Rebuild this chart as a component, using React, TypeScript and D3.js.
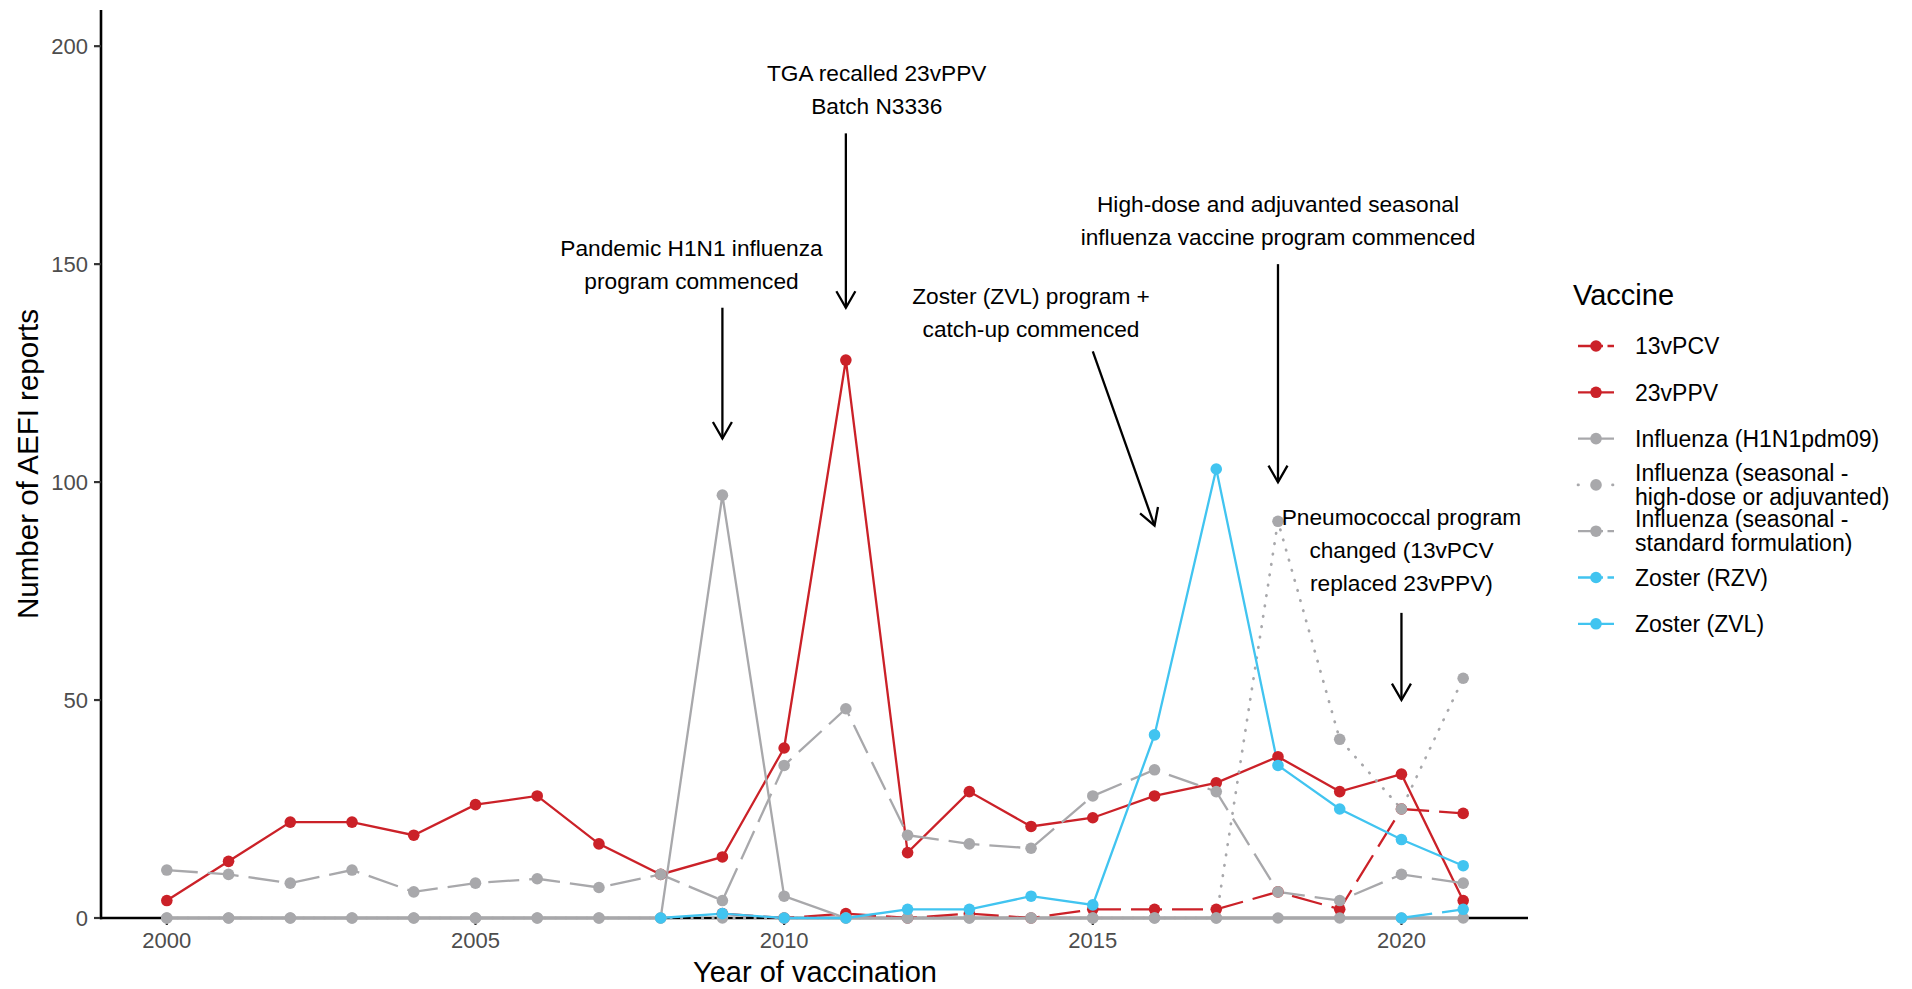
import React from 'react';
import * as d3 from 'd3';

const years = [2000, 2001, 2002, 2003, 2004, 2005, 2006, 2007, 2008, 2009, 2010, 2011, 2012, 2013, 2014, 2015, 2016, 2017, 2018, 2019, 2020, 2021];

// null = vaccine not in use that year
const pcv13 = [null, null, null, null, null, null, null, null, null, 1, 0, 1, 0, 1, 0, 2, 2, 2, 6, 2, 25, 24];
const ppv23 = [4, 13, 22, 22, 19, 26, 28, 17, 10, 14, 39, 128, 15, 29, 21, 23, 28, 31, 37, 29, 33, 4];
const fluH1N1 = [0, 0, 0, 0, 0, 0, 0, 0, 0, 97, 5, 0, 0, 0, 0, 0, 0, 0, 0, 0, 0, 0];
const fluHighDose = [0, 0, 0, 0, 0, 0, 0, 0, 0, 0, 0, 0, 0, 0, 0, 0, 0, 0, 91, 41, 25, 55];
const fluStandard = [11, 10, 8, 11, 6, 8, 9, 7, 10, 4, 35, 48, 19, 17, 16, 28, 34, 29, 6, 4, 10, 8];
const zosterRZV = [null, null, null, null, null, null, null, null, null, null, null, null, null, null, null, null, null, null, null, null, 0, 2];
const zosterZVL = [null, null, null, null, null, null, null, null, 0, 1, 0, 0, 2, 2, 5, 3, 42, 103, 35, 25, 18, 12];

const yTicks = [0, 50, 100, 150, 200];
const xTicks = [2000, 2005, 2010, 2015, 2020];

const RED = '#CB2128';
const GREY = '#A8A8AB';
const CYAN = '#41C4F0';

const series = [
  { name: ['13vPCV'], values: pcv13, color: RED, type: 'dashed' },
  { name: ['23vPPV'], values: ppv23, color: RED, type: 'solid' },
  { name: ['Influenza (H1N1pdm09)'], values: fluH1N1, color: GREY, type: 'solid' },
  { name: ['Influenza (seasonal -', 'high-dose or adjuvanted)'], values: fluHighDose, color: GREY, type: 'dotted' },
  { name: ['Influenza (seasonal -', 'standard formulation)'], values: fluStandard, color: GREY, type: 'dashed' },
  { name: ['Zoster (RZV)'], values: zosterRZV, color: CYAN, type: 'dashed' },
  { name: ['Zoster (ZVL)'], values: zosterZVL, color: CYAN, type: 'solid' },
];

// event annotations, in data units
const notes = [
  { lines: ['Pandemic H1N1 influenza', 'program commenced'], tx: 2008.5, ty: 150, x0: 2009, y0: 140, x1: 2009, y1: 110 },
  { lines: ['TGA recalled 23vPPV', 'Batch N3336'], tx: 2011.5, ty: 190, x0: 2011, y0: 180, x1: 2011, y1: 140 },
  { lines: ['Zoster (ZVL) program +', 'catch-up commenced'], tx: 2014, ty: 139, x0: 2015, y0: 130, x1: 2016, y1: 90 },
  { lines: ['High-dose and adjuvanted seasonal', 'influenza vaccine program commenced'], tx: 2018, ty: 160, x0: 2018, y0: 150, x1: 2018, y1: 100 },
  { lines: ['Pneumococcal program', 'changed (13vPCV', 'replaced 23vPPV)'], tx: 2020, ty: 84.5, x0: 2020, y0: 70, x1: 2020, y1: 50 },
];

const FONT = '"Liberation Sans", Arial, Helvetica, sans-serif';

const lineDash = { solid: undefined, dashed: '31,10', dotted: '0.5,10' } as Record<string, string | undefined>;
const keyDash = { solid: undefined, dashed: '25,4.5', dotted: '0.5,34' } as Record<string, string | undefined>;

export default function App() {
  const width = 1912;
  const height = 989;
  const left = 102;
  const right = 1528;
  const top = 10;
  const bottom = 918;

  const x = d3.scaleLinear().domain([1998.95, 2022.05]).range([left, right]);
  const y = d3.scaleLinear().domain([0, 208.3]).range([bottom, top]);

  const line = d3
    .line<[number, number | null]>()
    .defined((d) => d[1] != null)
    .x((d) => x(d[0]))
    .y((d) => y(d[1] as number));

  const arrowHead = (n: typeof notes[0]) => {
    const ax = x(n.x1);
    const ay = y(n.y1);
    const ang = Math.atan2(ay - y(n.y0), ax - x(n.x0));
    const len = 19;
    const spread = Math.PI / 6;
    const p1 = [ax - len * Math.cos(ang - spread), ay - len * Math.sin(ang - spread)];
    const p2 = [ax - len * Math.cos(ang + spread), ay - len * Math.sin(ang + spread)];
    return `M${p1[0]},${p1[1]}L${ax},${ay}L${p2[0]},${p2[1]}`;
  };

  const legendY0 = 346;
  const legendStep = 46.3;

  return (
    <svg width={width} height={height} style={{ position: 'absolute', left: 0, top: 0, background: '#fff' }} fontFamily={FONT}>
      {/* y axis */}
      <line x1={101} x2={101} y1={top} y2={bottom + 1.3} stroke="#000" strokeWidth={2.6} />
      {yTicks.map((t) => (
        <g key={t}>
          <line x1={94} x2={101} y1={y(t)} y2={y(t)} stroke="#333" strokeWidth={2.2} />
          <text x={88} y={y(t)} dy="0.36em" textAnchor="end" fontSize={22} fill="#4D4D4D">
            {t}
          </text>
        </g>
      ))}
      {/* x axis */}
      <line x1={100} x2={right} y1={bottom} y2={bottom} stroke="#000" strokeWidth={2.6} />
      {xTicks.map((t) => (
        <g key={t}>
          <line x1={x(t)} x2={x(t)} y1={bottom} y2={bottom + 7} stroke="#333" strokeWidth={2.2} />
          <text x={x(t)} y={948} textAnchor="middle" fontSize={22} fill="#4D4D4D">
            {t}
          </text>
        </g>
      ))}
      <text x={(left + right) / 2} y={982} textAnchor="middle" fontSize={29} fill="#000">
        Year of vaccination
      </text>
      <text transform={`translate(38,${(top + bottom) / 2}) rotate(-90)`} textAnchor="middle" fontSize={29.5} fill="#000">
        Number of AEFI reports
      </text>

      {/* lines */}
      {series.map((s, i) => (
        <path
          key={'l' + i}
          d={line(years.map((yr, j) => [yr, s.values[j]])) || ''}
          fill="none"
          stroke={s.color}
          strokeWidth={s.type === 'dotted' ? 2.7 : 2.3}
          strokeDasharray={lineDash[s.type]}
          strokeLinecap={s.type === 'dotted' ? 'round' : 'butt'}
        />
      ))}
      {/* points */}
      {series.map((s, i) => (
        <g key={'p' + i}>
          {years.map((yr, j) =>
            s.values[j] == null ? null : (
              <circle key={yr} cx={x(yr)} cy={y(s.values[j] as number)} r={5.8} fill={s.color} />
            )
          )}
        </g>
      ))}

      {/* annotations */}
      {notes.map((n, i) => (
        <g key={'n' + i}>
          <text x={x(n.tx)} y={y(n.ty) - ((n.lines.length - 1) * 33) / 2} textAnchor="middle" fontSize={22.7} fill="#000">
            {n.lines.map((l, k) => (
              <tspan key={k} x={x(n.tx)} dy={k === 0 ? '0.36em' : 33}>
                {l}
              </tspan>
            ))}
          </text>
          <line x1={x(n.x0)} y1={y(n.y0)} x2={x(n.x1)} y2={y(n.y1)} stroke="#000" strokeWidth={2.3} />
          <path d={arrowHead(n)} fill="none" stroke="#000" strokeWidth={2.3} />
        </g>
      ))}

      {/* legend */}
      <text x={1573} y={305} fontSize={29} fill="#000">
        Vaccine
      </text>
      {series.map((s, i) => {
        const cy = legendY0 + i * legendStep;
        return (
          <g key={'k' + i}>
            <line
              x1={1578}
              x2={1614}
              y1={cy}
              y2={cy}
              stroke={s.color}
              strokeWidth={s.type === 'dotted' ? 2.7 : 2.3}
              strokeDasharray={keyDash[s.type]}
              strokeLinecap={s.type === 'dotted' ? 'round' : 'butt'}
            />
            <circle cx={1596} cy={cy} r={5.8} fill={s.color} />
            <text x={1635} y={cy - ((s.name.length - 1) * 24) / 2} fontSize={23} fill="#000">
              {s.name.map((l, k) => (
                <tspan key={k} x={1635} dy={k === 0 ? '0.36em' : 24}>
                  {l}
                </tspan>
              ))}
            </text>
          </g>
        );
      })}
    </svg>
  );
}
